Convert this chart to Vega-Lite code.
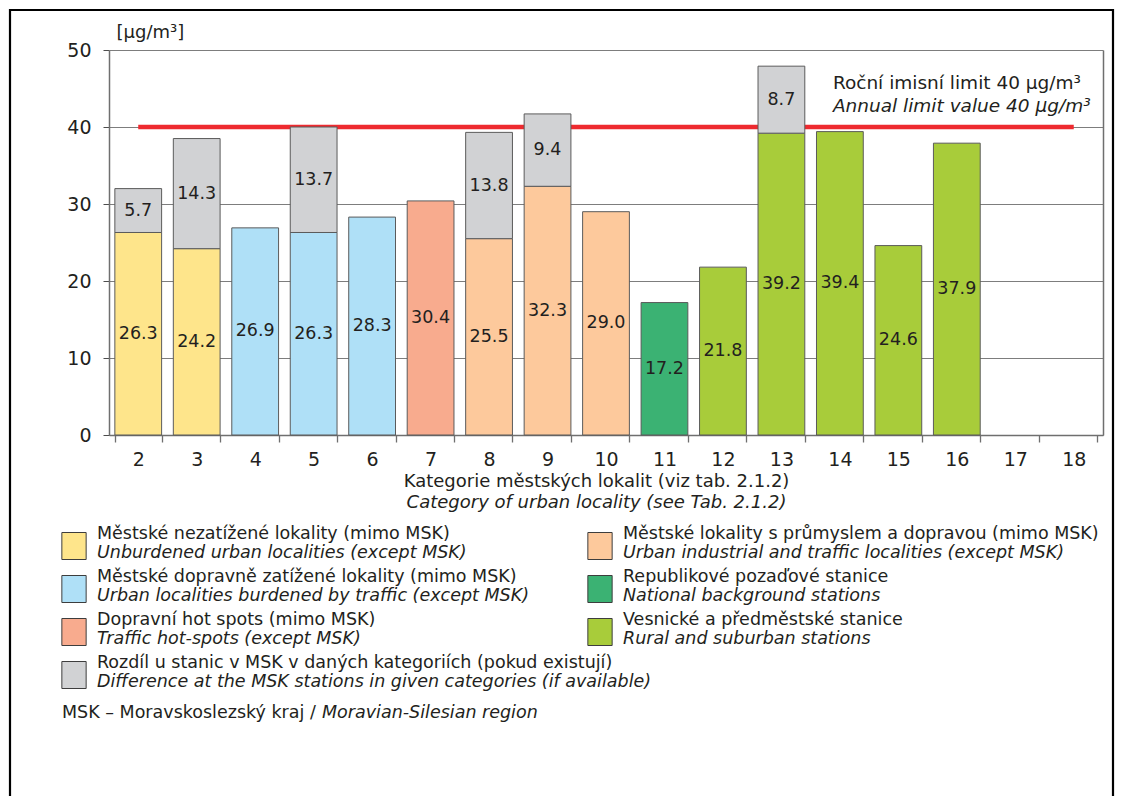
{
  "$schema": "https://vega.github.io/schema/vega-lite/v6.json",
  "width": 1103,
  "height": 791,
  "autosize": {"type": "none"},
  "padding": {"left": 10, "top": 10, "right": 9, "bottom": -5},
  "config": {
    "font": "DejaVu Sans",
    "view": {"stroke": "#000000", "strokeWidth": 2.2},
    "axis": {
      "labelFont": "DejaVu Sans",
      "titleFont": "DejaVu Sans",
      "labelColor": "#231f20",
      "titleColor": "#231f20",
      "titleFontWeight": "normal"
    }
  },
  "datasets": {
    "bars": [
      {"cat": "2", "group": "unburdened", "seg": 1, "value": 26.3},
      {"cat": "2", "group": "msk", "seg": 2, "value": 5.7},
      {"cat": "3", "group": "unburdened", "seg": 1, "value": 24.2},
      {"cat": "3", "group": "msk", "seg": 2, "value": 14.3},
      {"cat": "4", "group": "traffic", "seg": 1, "value": 26.9},
      {"cat": "5", "group": "traffic", "seg": 1, "value": 26.3},
      {"cat": "5", "group": "msk", "seg": 2, "value": 13.7},
      {"cat": "6", "group": "traffic", "seg": 1, "value": 28.3},
      {"cat": "7", "group": "hotspot", "seg": 1, "value": 30.4},
      {"cat": "8", "group": "industrial", "seg": 1, "value": 25.5},
      {"cat": "8", "group": "msk", "seg": 2, "value": 13.8},
      {"cat": "9", "group": "industrial", "seg": 1, "value": 32.3},
      {"cat": "9", "group": "msk", "seg": 2, "value": 9.4},
      {"cat": "10", "group": "industrial", "seg": 1, "value": 29.0},
      {"cat": "11", "group": "background", "seg": 1, "value": 17.2},
      {"cat": "12", "group": "rural", "seg": 1, "value": 21.8},
      {"cat": "13", "group": "rural", "seg": 1, "value": 39.2},
      {"cat": "13", "group": "msk", "seg": 2, "value": 8.7},
      {"cat": "14", "group": "rural", "seg": 1, "value": 39.4},
      {"cat": "15", "group": "rural", "seg": 1, "value": 24.6},
      {"cat": "16", "group": "rural", "seg": 1, "value": 37.9}
    ],
    "limit": [
      {"cat": "2", "limit": 40},
      {"cat": "18", "limit": 40}
    ],
    "limitNote": [
      {"limit": 40, "cz": "Roční imisní limit 40 μg/m³", "en": "Annual limit value 40 μg/m³"}
    ],
    "legend": [
      {"col": 0, "row": 0, "group": "unburdened", "cz": "Městské nezatížené lokality (mimo MSK)", "en": "Unburdened urban localities (except MSK)"},
      {"col": 0, "row": 1, "group": "traffic", "cz": "Městské dopravně zatížené lokality (mimo MSK)", "en": "Urban localities burdened by traffic (except MSK)"},
      {"col": 0, "row": 2, "group": "hotspot", "cz": "Dopravní hot spots (mimo MSK)", "en": "Traffic hot-spots (except MSK)"},
      {"col": 0, "row": 3, "group": "msk", "cz": "Rozdíl u stanic v MSK v daných kategoriích (pokud existují)", "en": "Difference at the MSK stations in given categories (if available)"},
      {"col": 1, "row": 0, "group": "industrial", "cz": "Městské lokality s průmyslem a dopravou (mimo MSK)", "en": "Urban industrial and traffic localities (except MSK)"},
      {"col": 1, "row": 1, "group": "background", "cz": "Republikové pozaďové stanice", "en": "National background stations"},
      {"col": 1, "row": 2, "group": "rural", "cz": "Vesnické a předměstské stanice", "en": "Rural and suburban stations"}
    ],
    "note": [
      {"col": 0, "row": 4, "cz": "MSK – Moravskoslezský kraj /", "en": "Moravian-Silesian region"}
    ]
  },
  "layer": [
    {
      "layer": [
        {
          "data": {"name": "limit"},
          "mark": {"type": "line", "color": "#ee2a2f", "strokeWidth": 4.5, "strokeCap": "butt"},
          "encoding": {
            "x": {
              "field": "cat",
              "type": "nominal",
              "scale": {
                "domain": ["2", "3", "4", "5", "6", "7", "8", "9", "10", "11", "12", "13", "14", "15", "16", "17", "18"],
                "range": [99, 1093],
                "paddingInner": 0.2,
                "paddingOuter": 0.1
              },
              "axis": {
                "orient": "bottom",
                "offset": -366,
                "tickBand": "extent",
                "tickSize": 7,
                "tickColor": "#6f6f6f",
                "tickWidth": 1.3,
                "domainColor": "#6f6f6f",
                "domainWidth": 1.5,
                "labelAngle": 0,
                "labelFontSize": 19,
                "labelPadding": 8,
                "grid": false,
                "title": "Kategorie městských lokalit (viz tab. 2.1.2)",
                "titleFontSize": 18,
                "titleAlign": "center",
                "titleBaseline": "alphabetic",
                "titleX": 586,
                "titleY": 51
              }
            },
            "y": {
              "field": "limit",
              "type": "quantitative",
              "scale": {"domain": [0, 50], "range": [425, 40], "nice": false},
              "axis": {
                "orient": "left",
                "offset": -99,
                "values": [0, 10, 20, 30, 40, 50],
                "tickSize": 6,
                "tickColor": "#4d4d4d",
                "domainColor": "#6f6f6f",
                "domainWidth": 1.5,
                "labelFontSize": 19,
                "labelPadding": 12,
                "grid": true,
                "gridColor": "#7d7d7d",
                "gridWidth": 1,
                "title": "[μg/m³]",
                "titleFontSize": 18,
                "titleAngle": 0,
                "titleAlign": "left",
                "titleBaseline": "alphabetic",
                "titleX": 7,
                "titleY": 27.5
              }
            }
          }
        },
        {
          "data": {"name": "bars"},
          "transform": [
            {"stack": "value", "groupby": ["cat"], "sort": [{"field": "seg", "order": "ascending"}], "as": ["v0", "v1"]}
          ],
          "mark": {"type": "bar", "stroke": "#5b5b5b", "strokeWidth": 1},
          "encoding": {
            "x": {
              "field": "cat",
              "type": "nominal",
              "axis": {
                "orient": "bottom",
                "offset": -366,
                "labels": false,
                "ticks": false,
                "domain": false,
                "grid": false,
                "title": "Category of urban locality (see Tab. 2.1.2)",
                "titleFontSize": 18,
                "titleFontStyle": "italic",
                "titleAlign": "center",
                "titleBaseline": "alphabetic",
                "titleX": 586,
                "titleY": 72
              }
            },
            "y": {
              "field": "v1",
              "type": "quantitative",
              "axis": {
                "orient": "right",
                "offset": -10,
                "labels": false,
                "ticks": false,
                "grid": false,
                "domainColor": "#6f6f6f",
                "domainWidth": 1.5,
                "title": null
              }
            },
            "y2": {"field": "v0"},
            "color": {
              "field": "group",
              "type": "nominal",
              "scale": {
                "domain": ["unburdened", "traffic", "hotspot", "industrial", "background", "rural", "msk"],
                "range": ["#fee58b", "#afe0f7", "#f8ab8e", "#fdc99c", "#3bb273", "#a8cc3a", "#d1d2d4"]
              },
              "legend": null
            }
          }
        },
        {
          "data": {"name": "bars"},
          "transform": [
            {"stack": "value", "groupby": ["cat"], "sort": [{"field": "seg", "order": "ascending"}], "as": ["v0", "v1"]},
            {"calculate": "(datum.v0 + datum.v1) / 2", "as": "mid"}
          ],
          "mark": {"type": "text", "fontSize": 17.5, "color": "#231f20", "baseline": "middle"},
          "encoding": {
            "x": {"field": "cat", "type": "nominal", "axis": null},
            "y": {"field": "mid", "type": "quantitative", "axis": null},
            "text": {"field": "value", "type": "quantitative", "format": ".1f"}
          }
        },
        {
          "data": {"name": "limitNote"},
          "mark": {"type": "text", "align": "left", "baseline": "alphabetic", "dx": -7, "dy": -38, "fontSize": 18.5, "color": "#231f20"},
          "encoding": {
            "x": {"datum": "14", "axis": null},
            "y": {"field": "limit", "type": "quantitative", "axis": null},
            "text": {"field": "cz", "type": "nominal"}
          }
        },
        {
          "data": {"name": "limitNote"},
          "mark": {"type": "text", "align": "left", "baseline": "alphabetic", "dx": -7, "dy": -15, "fontSize": 18.5, "fontStyle": "italic", "color": "#231f20"},
          "encoding": {
            "x": {"datum": "14", "axis": null},
            "y": {"field": "limit", "type": "quantitative", "axis": null},
            "text": {"field": "en", "type": "nominal"}
          }
        }
      ],
      "resolve": {"axis": {"x": "independent", "y": "independent"}}
    },
    {
      "encoding": {
        "x": {"field": "col", "type": "quantitative", "scale": {"domain": [0, 1], "range": [64, 590], "nice": false, "zero": false}, "axis": null},
        "y": {"field": "row", "type": "quantitative", "scale": {"domain": [0, 4], "range": [536, 708], "nice": false, "zero": false}, "axis": null}
      },
      "layer": [
        {
          "data": {"name": "legend"},
          "mark": {"type": "point", "shape": "M-0.9,-1H0.9V1H-0.9Z", "size": 729, "filled": true, "opacity": 1, "stroke": "#3d3d3d", "strokeWidth": 1},
          "encoding": {"color": {"field": "group", "type": "nominal", "legend": null}}
        },
        {
          "data": {"name": "legend"},
          "mark": {"type": "text", "align": "left", "baseline": "alphabetic", "dx": 23, "dy": -7.5, "fontSize": 17.5, "color": "#231f20"},
          "encoding": {"text": {"field": "cz", "type": "nominal"}}
        },
        {
          "data": {"name": "legend"},
          "mark": {"type": "text", "align": "left", "baseline": "alphabetic", "dx": 23, "dy": 11.5, "fontSize": 17.5, "fontStyle": "italic", "color": "#231f20"},
          "encoding": {"text": {"field": "en", "type": "nominal"}}
        },
        {
          "data": {"name": "note"},
          "mark": {"type": "text", "align": "left", "baseline": "alphabetic", "dx": -12, "dy": 0, "fontSize": 17.5, "color": "#231f20"},
          "encoding": {"text": {"field": "cz", "type": "nominal"}}
        },
        {
          "data": {"name": "note"},
          "mark": {"type": "text", "align": "left", "baseline": "alphabetic", "dx": 248, "dy": 0, "fontSize": 17.5, "fontStyle": "italic", "color": "#231f20"},
          "encoding": {"text": {"field": "en", "type": "nominal"}}
        }
      ]
    }
  ],
  "resolve": {
    "scale": {"x": "independent", "y": "independent"},
    "axis": {"x": "independent", "y": "independent"}
  }
}
